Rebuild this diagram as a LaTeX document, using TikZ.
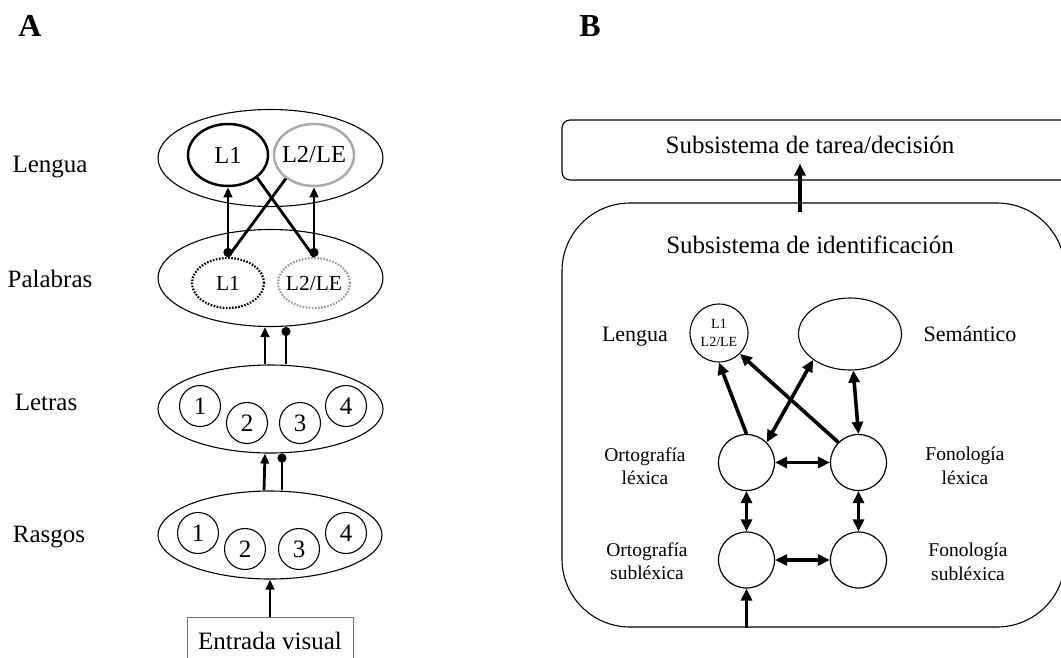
\documentclass[tikz,border=0pt]{standalone}
\usepackage{fontspec}
\setmainfont{Liberation Serif}
\usetikzlibrary{shapes.geometric,arrows.meta}

\begin{document}
\begin{tikzpicture}[x=1pt,y=-1pt,
  panel/.style={font=\fontsize{32}{36}\selectfont\bfseries},
  lbl/.style={font=\fontsize{25}{30}\selectfont, anchor=base},
  lay/.style={draw, ellipse, line width=1.1pt, inner sep=0pt,
              minimum width=225pt, minimum height=97pt},
  lowlay/.style={lay, minimum height=88pt},
  langnode/.style={draw, ellipse, line width=2.5pt, inner sep=0pt,
                   minimum width=80pt, minimum height=62pt,
                   font=\fontsize{24.5}{28}\selectfont},
  wordnode/.style={draw, ellipse, line width=2.2pt, inner sep=0pt,
                   dash pattern=on 1.6pt off 1.5pt,
                   minimum width=72pt, minimum height=50pt,
                   font=\fontsize{21.5}{25}\selectfont},
  unit/.style={draw, circle, line width=1.1pt, inner sep=0pt,
               minimum size=41pt, font=\fontsize{25}{30}\selectfont},
  arrA/.style={line width=2.8pt, -{Triangle[length=10pt,width=8.5pt]}},
  dotA/.style={line width=2.8pt, -{Circle[length=9pt]}},
  lineA/.style={line width=2.8pt},
  sub/.style={draw, circle, line width=1.2pt, inner sep=0pt, minimum size=56pt},
  twoline/.style={align=center, font=\fontsize{19.5}{23.5}\selectfont},
  arrB/.style={line width=3.6pt, -{Triangle[length=12pt,width=11pt]}},
  dblB/.style={line width=3.6pt,
               {Triangle[length=12pt,width=11pt]}-{Triangle[length=12pt,width=11pt]}}
]
\path[use as bounding box, fill=white] (0,0) rectangle (1061,657);
\clip (0,0) rectangle (1061,657);

% ---------------- panel A ----------------
\node[panel] (pA) at (30,26) {A};

\node[lbl] (tLengua)   at (50,172) {Lengua};
\node[lbl] (tPalabras) at (50,287) {Palabras};
\node[lbl] (tLetras)   at (46,410) {Letras};
\node[lbl] (tRasgos)   at (49,542) {Rasgos};

% language layer
\node[lay] (lenA) at (270.5,158) {};
\node[langnode] (lenL1) at (228,155) {\makebox[0pt]{L1}};
\node[langnode, draw=black!33] (lenL2) at (314,155) {\makebox[0pt]{L2/LE}};

% word layer
\node[lay] (palA) at (270.5,278) {};
\node[wordnode] (palL1) at (228,283) {\makebox[0pt]{L1}};
\node[wordnode, draw=black!40] (palL2) at (314,283) {\makebox[0pt]{L2/LE}};

% letter layer
\node[lowlay] (letA) at (270.5,409) {};
\node[unit] (let1) at (200,406) {1};
\node[unit] (let2) at (247,423) {2};
\node[unit] (let3) at (300,423) {3};
\node[unit] (let4) at (346,406) {4};

% feature layer
\node[lowlay, minimum width=224pt] (rasA) at (270,535) {};
\node[unit] (ras1) at (198,533) {1};
\node[unit] (ras2) at (245,549) {2};
\node[unit] (ras3) at (299,549) {3};
\node[unit] (ras4) at (346,533) {4};

% visual input
\node[draw=black!55, line width=1pt, minimum width=166pt, minimum height=46pt,
      font=\fontsize{25}{30}\selectfont, anchor=north] (entrada) at (270,617) {Entrada visual};

% connections, panel A
\draw[arrA] (entrada.north) -- (rasA.south);
\draw[arrA] ([xshift=-6pt]rasA.north) -- ([xshift=-5.5pt]letA.south);
\draw[dotA] ([xshift=12pt]rasA.north) -- ([xshift=11.5pt]letA.south);
\draw[arrA] ([xshift=-5.5pt]letA.north) -- ([xshift=-5.5pt]palA.south);
\draw[dotA] ([xshift=15.5pt]letA.north) -- ([xshift=15.5pt]palA.south);

\draw[lineA, {Circle[length=9pt]}-{Triangle[length=10pt,width=8.5pt]}] (palL1.north) -- (lenL1.south);
\draw[lineA, {Circle[length=9pt]}-{Triangle[length=10pt,width=8.5pt]}] (palL2.north) -- (lenL2.south);
\draw[lineA] (palL1.north) -- (lenL2.220);
\draw[lineA] (palL2.north) -- (lenL1.-38);

% ---------------- panel B ----------------
\node[panel] (pB) at (590,26) {B};

\node[draw, line width=1.1pt, rounded corners=8pt, minimum width=513pt,
      minimum height=60pt] (task) at (818.5,150) {};
\node[lbl] (taskTxt) at (810,153) {Subsistema de tarea/decisión};

\node[draw, line width=1.1pt, rounded corners=68pt, minimum width=503pt,
      minimum height=424pt] (ident) at (813.5,415) {};
\node[lbl] (identTxt) at (810,253) {Subsistema de identificación};

\draw[arrB] ([xshift=-13.5pt,yshift=-10pt]ident.north) -- ([xshift=-18.5pt,yshift=17pt]task.south);

\node[draw, circle, line width=1.1pt, inner sep=0pt, minimum size=58pt, align=center,
      font=\fontsize{14}{17.5}\selectfont] (lang) at (719,333) {L1\\L2/LE};
\node[draw, ellipse, line width=1.1pt, inner sep=0pt, minimum width=103pt,
      minimum height=72pt] (sem) at (850,334) {};

\node[font=\fontsize{22}{26}\selectfont, anchor=base] (tLang) at (635,341) {Lengua};
\node[font=\fontsize{22}{26}\selectfont, anchor=base] (tSem) at (970,341) {Semántico};

\node[sub] (OL) at (746.5,462.5) {};
\node[sub] (FL) at (858.5,462.5) {};
\node[sub] (OS) at (746.5,560) {};
\node[sub] (FS) at (858.5,560) {};

\node[twoline] (tOL) at (645,466) {Ortografía\\léxica};
\node[twoline] (tOS) at (647,561) {Ortografía\\subléxica};
\node[twoline] (tFL) at (965,466) {Fonología\\léxica};
\node[twoline] (tFS) at (968,562) {Fonología\\subléxica};

% connections, panel B
\draw[arrB] (OL.north) -- (lang.south);
\draw[arrB] (FL.135) -- (lang.-45);
\draw[dblB] (OL.45) -- (sem.215);
\draw[dblB] (sem.-85) -- (FL.north);
\draw[dblB] (OL.east) -- (FL.west);
\draw[dblB] (OS.east) -- (FS.west);
\draw[dblB] (OL.south) -- (OS.north);
\draw[dblB] (FL.south) -- (FS.north);
\draw[arrB] (ident.south -| OS.south) -- (OS.south);
\end{tikzpicture}
\end{document}
